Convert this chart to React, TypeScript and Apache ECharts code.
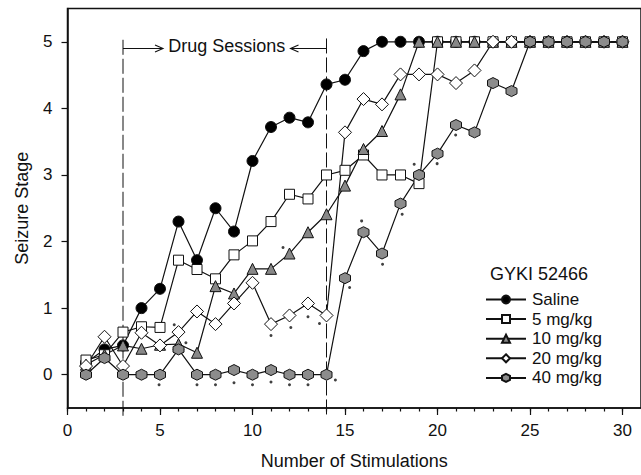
import React, { useEffect, useRef } from "react";
import * as echarts from "echarts";

const stimulations = [1, 2, 3, 4, 5, 6, 7, 8, 9, 10, 11, 12, 13, 14, 15, 16, 17, 18, 19, 20, 21, 22, 23, 24, 25, 26, 27, 28, 29, 30];
const saline = [0.18, 0.38, 0.44, 1.0, 1.29, 2.3, 1.72, 2.5, 2.15, 3.21, 3.72, 3.86, 3.79, 4.36, 4.43, 4.86, 5, 5, 5, 5, 5, 5, 5, 5, 5, 5, 5, 5, 5, 5];
const mg5 = [0.22, 0.3, 0.64, 0.72, 0.71, 1.72, 1.58, 1.44, 1.8, 2.01, 2.3, 2.71, 2.64, 3.0, 3.07, 3.3, 3.0, 3.0, 2.87, 5, 5, 5, 5, 5, 5, 5, 5, 5, 5, 5];
const mg10 = [0.15, 0.3, 0.44, 0.39, 0.45, 0.46, 0.33, 1.33, 1.22, 1.59, 1.59, 1.82, 2.14, 2.41, 2.84, 3.39, 3.66, 4.21, 5, 5, 5, 5, 5, 5, 5, 5, 5, 5, 5, 5];
const mg20 = [0.13, 0.57, 0.13, 0.63, 0.44, 0.64, 0.95, 0.76, 1.07, 1.38, 0.76, 0.89, 1.07, 0.89, 3.64, 4.14, 4.06, 4.51, 4.51, 4.51, 4.38, 4.57, 5, 5, 5, 5, 5, 5, 5, 5];
const mg40 = [0, 0.25, 0, 0, 0, 0.38, 0, 0, 0.07, 0, 0.07, 0, 0, 0, 1.45, 2.14, 1.82, 2.57, 3.0, 3.32, 3.75, 3.64, 4.38, 4.26, 5, 5, 5, 5, 5, 5];
const sigDots = [
  [4.95, -0.15], [5.77, 0.75], [6.4, 0.48], [7, -0.15], [8, -0.15], [9, -0.12], [10, -0.15],
  [11, -0.11], [12, -0.15], [13, -0.15], [14.48, -0.08], [11, 0.59], [12.07, 0.71], [13, 0.87],
  [13.62, 0.77], [11.65, 1.91], [15.25, 1.31], [15.9, 2.31], [17.03, 1.66], [18.09, 2.41],
  [18.74, 3.16], [19.98, 3.17], [20.98, 3.6],
];
const yTicks = [0, 1, 2, 3, 4, 5];
const xLabels = [0, 5, 10, 15, 20, 25, 30];
const xMinorTicks = [0, 1, 2, 3, 4, 5, 6, 7, 8, 9, 10, 11, 12, 13, 14, 15, 16, 17, 18, 19, 20, 21, 22, 23, 24, 25, 26, 27, 28, 29, 30];
const drugStart = 3;
const drugEnd = 14;
const seriesNames = ["Saline", "5 mg/kg", "10 mg/kg", "20 mg/kg", "40 mg/kg"];

const FONT = "'Liberation Sans', Arial, Helvetica, sans-serif";
const INK = "#111";

export default function App() {
  const ref = useRef<HTMLDivElement>(null);

  useEffect(() => {
    const chart = echarts.init(ref.current!, null, { renderer: "svg" });
    const pair = (arr: number[]) => arr.map((v, i) => [stimulations[i], v]);
    const hex = "path://M0,-10L8.66,-5L8.66,5L0,10L-8.66,5L-8.66,-5Z";
    const lineStyle = { color: INK, width: 1.2 };
    const mk = (name: string, data: number[], symbol: string, size: number, fill: string) => ({
      name,
      type: "line",
      data: pair(data),
      symbol,
      symbolSize: size,
      showSymbol: true,
      lineStyle,
      itemStyle: { color: fill, borderColor: INK, borderWidth: 1 },
      emphasis: { disabled: true },
    });

    chart.setOption({
      animation: false,
      grid: {
        left: 67.5,
        top: 8.5,
        width: 578,
        height: 403.8,
        show: true,
        borderColor: INK,
        borderWidth: 1.5,
        backgroundColor: "#fff",
      },
      xAxis: [
        {
          type: "value",
          min: 0,
          max: 31,
          position: "bottom",
          axisLine: { show: true, onZero: false, lineStyle: { color: INK, width: 1.5 } },
          axisTick: { show: true, customValues: xMinorTicks, length: 3.5, lineStyle: { color: INK, width: 1.2 } },
          axisLabel: { customValues: xLabels, fontSize: 17, color: INK, fontFamily: FONT, margin: 14 },
          splitLine: { show: false },
          name: "Number of Stimulations",
          nameLocation: "middle",
          nameGap: 44,
          nameTextStyle: { fontSize: 18, color: INK, fontFamily: FONT },
        },
        {
          type: "value",
          min: 0,
          max: 31,
          position: "bottom",
          gridIndex: 0,
          axisLine: { show: false, onZero: false },
          axisTick: { show: true, customValues: xLabels, length: 7, lineStyle: { color: INK, width: 1.2 } },
          axisLabel: { show: false },
          splitLine: { show: false },
        },
      ],
      yAxis: {
        type: "value",
        min: -0.5,
        max: 5.5,
        axisLine: { show: true, onZero: false, lineStyle: { color: INK, width: 1.5 } },
        axisTick: { show: true, customValues: yTicks, length: 6, lineStyle: { color: INK, width: 1.2 } },
        axisLabel: { customValues: yTicks, fontSize: 17, color: INK, fontFamily: FONT, margin: 15 },
        splitLine: { show: false },
        name: "Seizure Stage",
        nameLocation: "middle",
        nameGap: 37,
        nameTextStyle: { fontSize: 18, color: INK, fontFamily: FONT },
      },
      legend: {
        data: seriesNames,
        orient: "vertical",
        left: 480,
        top: 286,
        itemWidth: 40,
        itemHeight: 10,
        itemGap: 2.6,
        selectedMode: false,
        textStyle: { fontSize: 17, color: INK, fontFamily: FONT, padding: [0, 0, 0, 1] },
      },
      series: [
        mk(seriesNames[0], saline, "circle", 11, "#000"),
        mk(seriesNames[1], mg5, "rect", 10, "#fff"),
        mk(seriesNames[2], mg10, "triangle", 11, "#888"),
        mk(seriesNames[3], mg20, "diamond", 13, "#fff"),
        mk(seriesNames[4], mg40, hex, 11, "#8c8c8c"),
        {
          name: "significance",
          type: "scatter",
          data: sigDots,
          symbol: "circle",
          symbolSize: 3,
          itemStyle: { color: INK },
          emphasis: { disabled: true },
          silent: true,
        },
      ],
    });

    const px = (x: number, y: number) => chart.convertToPixel({ xAxisIndex: 0, yAxisIndex: 0 }, [x, y]) as number[];
    const [lx, topL] = px(drugStart, 5.03);
    const [rx, topR] = px(drugEnd, 5.05);
    const [, arrowY] = px(drugStart, 4.9);
    const [, bottomY] = px(drugStart, -0.5);
    const dashedBottom = bottomY + 9;
    const leftTip = lx + 40;
    const rightTip = rx - 36;
    const textCx = (leftTip + rightTip) / 2;
    const head = 8;
    const half = 3.5;

    chart.setOption({
      graphic: [
        { type: "line", shape: { x1: lx, y1: topL, x2: lx, y2: dashedBottom }, style: { stroke: INK, lineWidth: 1, lineDash: [15, 4] }, z: 1 },
        { type: "line", shape: { x1: rx, y1: topR, x2: rx, y2: dashedBottom }, style: { stroke: INK, lineWidth: 1, lineDash: [15, 4] }, z: 1 },
        { type: "line", shape: { x1: lx, y1: arrowY, x2: leftTip, y2: arrowY }, style: { stroke: INK, lineWidth: 1.1 } },
        { type: "polyline", shape: { points: [[leftTip - head, arrowY - half], [leftTip, arrowY], [leftTip - head, arrowY + half]] }, style: { stroke: INK, lineWidth: 1.1, fill: null } },
        { type: "line", shape: { x1: rx, y1: arrowY, x2: rightTip, y2: arrowY }, style: { stroke: INK, lineWidth: 1.1 } },
        { type: "polyline", shape: { points: [[rightTip + head, arrowY - half], [rightTip, arrowY], [rightTip + head, arrowY + half]] }, style: { stroke: INK, lineWidth: 1.1, fill: null } },
        { type: "text", x: textCx, y: arrowY - 2, style: { text: "Drug Sessions", fontSize: 18, fontFamily: FONT, fill: INK, align: "center", verticalAlign: "middle" } },
        { type: "text", x: 539, y: 274, style: { text: "GYKI 52466", fontSize: 18, fontFamily: FONT, fill: INK, align: "center", verticalAlign: "middle" } },
      ],
    });

    return () => chart.dispose();
  }, []);

  return (
    <div style={{ position: "fixed", left: 0, top: 0, width: 641, height: 475, background: "#fff" }}>
      <div ref={ref} style={{ width: 641, height: 475 }} />
    </div>
  );
}
